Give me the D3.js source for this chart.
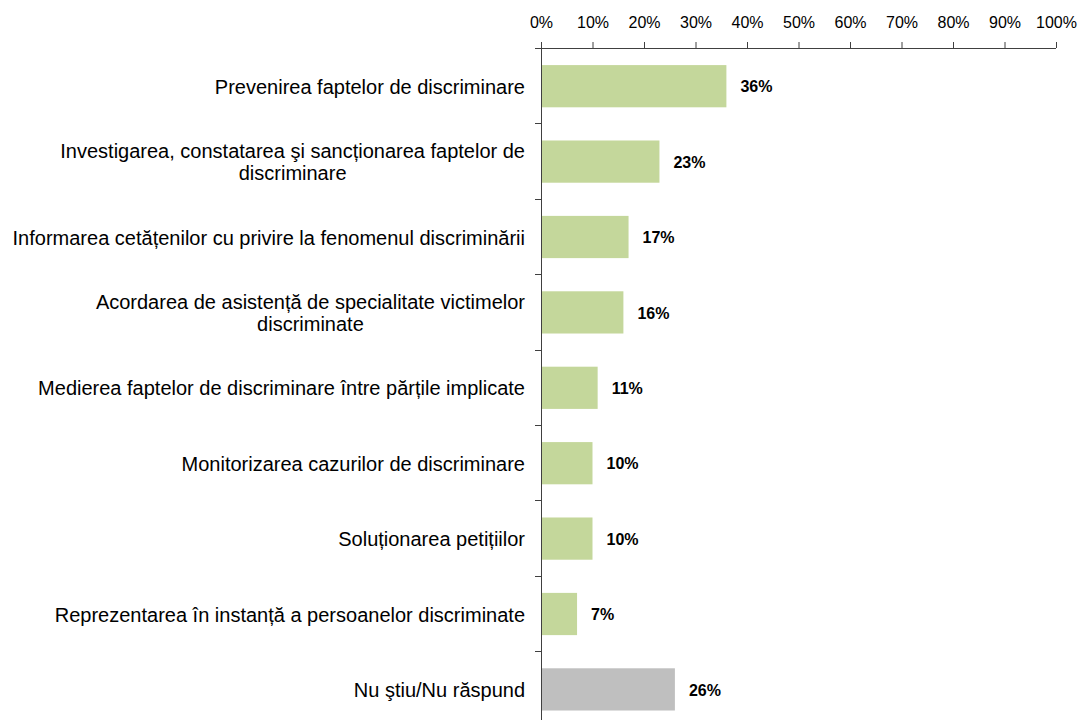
<!DOCTYPE html>
<html>
<head>
<meta charset="utf-8">
<script src="https://cdn.jsdelivr.net/npm/d3@7"></script>
<style>
  body { margin: 0; background: #fff; }
  svg { display: block; font-family: "Liberation Sans", Arial, sans-serif; }
</style>
</head>
<body>
<div id="chart"></div>
<script>
// Data
const categories = [
  'Prevenirea faptelor de discriminare',
  'Investigarea, constatarea şi sancționarea faptelor de discriminare',
  'Informarea cetățenilor cu privire la fenomenul discriminării',
  'Acordarea de asistență de specialitate victimelor discriminate',
  'Medierea faptelor de discriminare între părțile implicate',
  'Monitorizarea cazurilor de discriminare',
  'Soluționarea petițiilor',
  'Reprezentarea în instanță a persoanelor discriminate',
  'Nu ştiu/Nu răspund'
];
const values = [36, 23, 17, 16, 11, 10, 10, 7, 26];
const xTicks = [0, 10, 20, 30, 40, 50, 60, 70, 80, 90, 100];
const noAnswer = 'Nu ştiu/Nu răspund';

const width = 1084;
const height = 720;
const x0 = 541, x1 = 1056;
const yTop = 48, step = 75.4;

const x = d3.scaleLinear().domain([0, 100]).range([x0, x1]);
const y = d3.scaleBand()
  .domain(categories)
  .range([yTop, yTop + step * categories.length])
  .paddingInner(0.44)
  .paddingOuter(0.22);

const svg = d3.select('#chart')
  .append('svg')
  .attr('width', width)
  .attr('height', height);

// Bars
svg.selectAll('rect.bar')
  .data(categories)
  .enter()
  .append('rect')
  .attr('class', 'bar')
  .attr('x', x(0))
  .attr('y', d => y(d) + 0.5)
  .attr('width', (d, i) => x(values[i]) - x(0))
  .attr('height', y.bandwidth())
  .attr('fill', d => d === noAnswer ? '#bfbfbf' : '#c4d79b');

// Value labels
svg.selectAll('text.value')
  .data(categories)
  .enter()
  .append('text')
  .attr('class', 'value')
  .attr('x', (d, i) => x(values[i]) + 14)
  .attr('y', d => y(d) + y.bandwidth() / 2 + 1)
  .attr('dy', '0.35em')
  .style('font-size', '16px')
  .style('font-weight', 'bold')
  .style('fill', '#000')
  .text((d, i) => values[i] + '%');

// Top axis
const xAxis = d3.axisTop(x)
  .tickValues(xTicks)
  .tickFormat(d => d + '%')
  .tickSize(6)
  .tickSizeOuter(0);

const gx = svg.append('g')
  .attr('transform', `translate(0,${yTop})`)
  .call(xAxis);
gx.select('.domain').remove();
gx.selectAll('.tick line').attr('stroke', '#404040');
gx.selectAll('.tick text')
  .attr('y', -20)
  .attr('dy', 0)
  .style('font-size', '16px')
  .style('fill', '#000')
  .style('font-family', '"Liberation Sans", Arial, sans-serif');

svg.append('line')
  .attr('x1', x0 - 6).attr('x2', x1)
  .attr('y1', yTop + 0.5).attr('y2', yTop + 0.5)
  .attr('stroke', '#404040');

// Left axis line and band separators
svg.append('line')
  .attr('x1', x0 + 0.5).attr('x2', x0 + 0.5)
  .attr('y1', yTop).attr('y2', height)
  .attr('stroke', '#404040');

const bounds = categories.map(d => y(d) - y.step() * y.paddingInner() / 2);
svg.selectAll('line.sep')
  .data(bounds)
  .enter()
  .append('line')
  .attr('class', 'sep')
  .attr('x1', x0 - 6).attr('x2', x0)
  .attr('y1', d => Math.round(d) + 0.5)
  .attr('y2', d => Math.round(d) + 0.5)
  .attr('stroke', '#404040');

// Category labels, wrapped and centred as a block against the axis
const labelRight = 525;
const maxWidth = 520;
const lineHeight = 22;

categories.forEach(cat => {
  const g = svg.append('g');
  const probe = g.append('text').style('font-size', '20px');
  const words = cat.split(' ');
  const lines = [];
  let line = [];
  words.forEach(w => {
    line.push(w);
    probe.text(line.join(' '));
    if (probe.node().getComputedTextLength() > maxWidth && line.length > 1) {
      line.pop();
      lines.push(line.join(' '));
      line = [w];
    }
  });
  lines.push(line.join(' '));
  const widths = lines.map(l => { probe.text(l); return probe.node().getComputedTextLength(); });
  probe.remove();
  const blockW = d3.max(widths);
  const cy = y(cat) + y.bandwidth() / 2 + 1;
  const firstY = cy - (lines.length - 1) * lineHeight / 2;
  g.selectAll('text')
    .data(lines)
    .enter()
    .append('text')
    .attr('x', labelRight - blockW / 2)
    .attr('y', (d, i) => firstY + i * lineHeight)
    .attr('dy', '0.35em')
    .style('text-anchor', 'middle')
    .style('font-size', '20px')
    .style('fill', '#000')
    .text(d => d);
});
</script>
</body>
</html>
